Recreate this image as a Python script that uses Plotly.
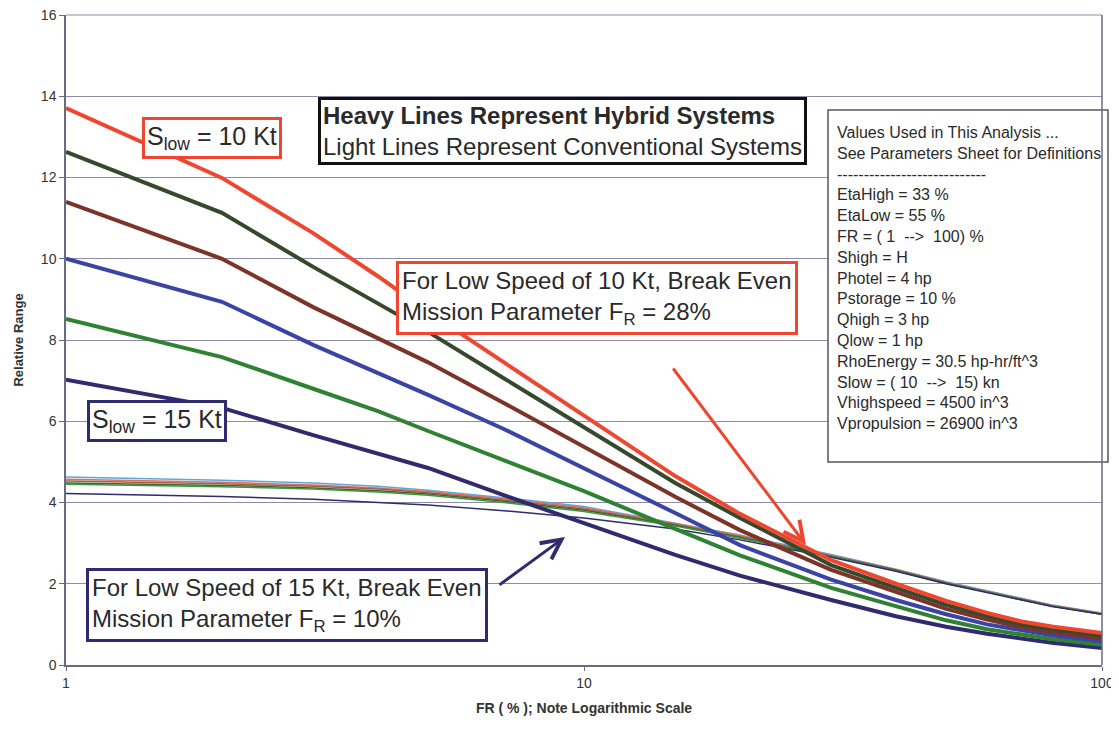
import plotly.graph_objects as go

# ---------------- data ----------------
FR = [1, 2, 3, 4, 5, 7, 10, 15, 20, 30, 40, 50, 60, 70, 80, 100]

# Heavy lines: hybrid systems, S_low = 10..15 kt
hyb_10 = [13.71, 11.99, 10.63, 9.57, 8.69, 7.46, 6.13, 4.65, 3.72, 2.58, 2.00, 1.58, 1.28, 1.07, 0.95, 0.79]
hyb_11 = [12.63, 11.13, 9.80, 8.89, 8.20, 7.06, 5.86, 4.48, 3.62, 2.46, 1.90, 1.48, 1.20, 1.00, 0.88, 0.72]
hyb_12 = [11.40, 10.00, 8.81, 8.05, 7.45, 6.45, 5.37, 4.14, 3.32, 2.34, 1.80, 1.38, 1.12, 0.93, 0.81, 0.65]
hyb_13 = [10.00, 8.94, 7.88, 7.20, 6.65, 5.81, 4.85, 3.74, 2.95, 2.10, 1.60, 1.25, 1.00, 0.85, 0.73, 0.58]
hyb_14 = [8.52, 7.58, 6.80, 6.25, 5.76, 5.05, 4.28, 3.35, 2.70, 1.90, 1.45, 1.10, 0.88, 0.75, 0.64, 0.50]
hyb_15 = [7.02, 6.33, 5.66, 5.19, 4.85, 4.18, 3.50, 2.71, 2.20, 1.60, 1.20, 0.94, 0.77, 0.65, 0.55, 0.42]

# Light lines: conventional systems
conv_13 = [4.63, 4.55, 4.48, 4.40, 4.30, 4.12, 3.90, 3.50, 3.20, 2.72, 2.36, 2.05, 1.83, 1.65, 1.48, 1.28]
conv_10 = [4.57, 4.50, 4.43, 4.36, 4.27, 4.09, 3.87, 3.48, 3.18, 2.70, 2.35, 2.03, 1.82, 1.63, 1.47, 1.27]
conv_12 = [4.53, 4.46, 4.40, 4.33, 4.24, 4.06, 3.84, 3.46, 3.16, 2.69, 2.34, 2.02, 1.81, 1.62, 1.46, 1.26]
conv_11 = [4.48, 4.42, 4.36, 4.29, 4.21, 4.03, 3.81, 3.44, 3.14, 2.68, 2.33, 2.01, 1.80, 1.61, 1.45, 1.25]
conv_14 = [4.45, 4.39, 4.33, 4.26, 4.18, 4.00, 3.78, 3.42, 3.12, 2.67, 2.32, 2.00, 1.80, 1.60, 1.45, 1.25]
conv_15 = [4.22, 4.15, 4.08, 4.01, 3.94, 3.80, 3.62, 3.35, 3.08, 2.65, 2.31, 2.00, 1.79, 1.60, 1.44, 1.25]

y_ticks = [0, 2, 4, 6, 8, 10, 12, 14, 16]
x_ticks = [1, 10, 100]

params_text = [
    "Values Used in This Analysis ...",
    "See Parameters Sheet for Definitions",
    "----------------------------",
    "EtaHigh = 33 %",
    "EtaLow = 55 %",
    "FR = ( 1  -->  100) %",
    "Shigh = H",
    "Photel = 4 hp",
    "Pstorage = 10 %",
    "Qhigh = 3 hp",
    "Qlow = 1 hp",
    "RhoEnergy = 30.5 hp-hr/ft^3",
    "Slow = ( 10  -->  15) kn",
    "Vhighspeed = 4500 in^3",
    "Vpropulsion = 26900 in^3",
]

# ---------------- styling ----------------
RED = "#ef4630"
DKGREEN = "#37492c"
BROWN = "#7d3428"
BLUE = "#3a44a6"
GREEN = "#2f8232"
NAVY = "#2f2b6e"
FONT = "Liberation Sans, Arial, sans-serif"
TXT = "#2a2a2a"
AXC = "#6a6a80"
GRID = "#8e8caa"

fig = go.Figure()

conv = [(conv_13, "#5aa8e0"), (conv_10, "#e0705a"), (conv_12, "#a0604a"),
        (conv_11, "#4a5a3a"), (conv_14, "#3a9a3a"), (conv_15, NAVY)]
for ys, c in conv:
    fig.add_trace(go.Scatter(x=FR, y=ys, mode="lines", line=dict(color=c, width=1.5),
                             showlegend=False))

heavy = [(hyb_15, NAVY), (hyb_14, GREEN), (hyb_13, BLUE), (hyb_12, BROWN),
         (hyb_11, DKGREEN), (hyb_10, RED)]
for ys, c in heavy:
    fig.add_trace(go.Scatter(x=FR, y=ys, mode="lines", line=dict(color=c, width=4),
                             showlegend=False))

# page has an 8px body margin: figure origin is at (8, 8) in the screenshot
OFF = 8
W, H = 1119 - OFF, 732 - 2 * OFF
PLOT_L, PLOT_R, PLOT_T, PLOT_B = 66, 1102, 15, 665
L = PLOT_L - OFF
R = W - (PLOT_R - OFF)
T = PLOT_T - OFF
B = H - (PLOT_B - OFF)
PW = W - L - R
PH = H - T - B


def px(x):  # screenshot pixel -> paper x
    return (x - OFF - L) / PW


def py(y):  # screenshot pixel -> paper y
    return (H - B - (y - OFF)) / PH


ann = []
box_font = dict(family=FONT, size=24, color=TXT)
slow_font = dict(family=FONT, size=25, color=TXT)


def box(xc, yc, text, color, font, pad=3, align="left"):
    return dict(x=px(xc), y=py(yc), xref="paper", yref="paper", xanchor="center",
                yanchor="middle", align=align, text=text, showarrow=False, font=font,
                bordercolor=color, borderwidth=3, borderpad=pad, bgcolor="white")


ann.append(box(212, 138, "S<sub>low</sub> = 10 Kt", RED, slow_font, pad=2))
ann.append(box(157, 421, "S<sub>low</sub> = 15 Kt", NAVY, slow_font, pad=2))
ann.append(box(562, 131, "<b>Heavy Lines Represent Hybrid Systems</b><br>Light Lines Represent Conventional Systems",
               "#111111", box_font, pad=2))
ann.append(box(597, 298, "For Low Speed of 10 Kt, Break Even<br>Mission Parameter F<sub>R</sub> = 28%",
               RED, box_font, pad=3))
ann.append(box(287, 605, "For Low Speed of 15 Kt, Break Even<br>Mission Parameter F<sub>R</sub> = 10%",
               NAVY, box_font, pad=3))

# arrows
ann.append(dict(x=px(806), y=py(545), xref="paper", yref="paper", text="",
                showarrow=True, ax=672 - 806, ay=367 - 545, axref="pixel", ayref="pixel",
                arrowcolor=RED, arrowwidth=3, arrowhead=5, arrowsize=1.3))
ann.append(dict(x=px(565), y=py(537), xref="paper", yref="paper", text="",
                showarrow=True, ax=498 - 565, ay=586 - 537, axref="pixel", ayref="pixel",
                arrowcolor=NAVY, arrowwidth=3, arrowhead=5, arrowsize=1.3))

# parameters box text
ann.append(dict(x=px(835), y=py(122), xref="paper", yref="paper", xanchor="left", yanchor="top",
                align="left", text="<br>".join(params_text), showarrow=False,
                font=dict(family=FONT, size=16, color=TXT)))

shapes = [dict(type="rect", xref="paper", yref="paper",
               x0=px(828), x1=px(1108), y0=py(462), y1=py(110),
               line=dict(color="#555566", width=1.5), fillcolor="white", layer="above"),
          dict(type="line", xref="paper", yref="paper", x0=1, x1=1, y0=0, y1=1,
               line=dict(color=AXC, width=1.5)),
          dict(type="line", xref="paper", yref="paper", x0=0, x1=1, y0=1, y1=1,
               line=dict(color=GRID, width=1.2), layer="below")]

fig.update_layout(
    width=W, height=H,
    margin=dict(l=L, r=R, t=T, b=B, autoexpand=False),
    paper_bgcolor="white", plot_bgcolor="white",
    font=dict(family=FONT, color=TXT),
    showlegend=False,
    annotations=ann,
    shapes=shapes,
    xaxis=dict(type="log", range=[0, 2], tickvals=x_ticks, ticktext=[str(v) for v in x_ticks],
               showgrid=False, showline=True, linecolor=AXC, linewidth=1.5,
               ticks="outside", ticklen=4, tickcolor=AXC, automargin=False,
               ticklabeloverflow="allow",
               tickfont=dict(size=14, color="#333333"),
               title=dict(text="<b>FR ( % ); Note Logarithmic Scale</b>",
                          font=dict(size=14, color="#333333"), standoff=14),
               zeroline=False),
    yaxis=dict(range=[0, 16], tickvals=y_ticks, showgrid=True, gridcolor=GRID, gridwidth=1,
               showline=True, linecolor=AXC, linewidth=1.5, automargin=False,
               ticks="outside", ticklen=5, tickcolor=AXC, ticklabeloverflow="allow",
               tickfont=dict(size=14, color="#333333"),
               title=dict(text="<b>Relative Range</b>", font=dict(size=13, color="#333333"),
                          standoff=14),
               zeroline=False),
)

fig.write_html("out.html")
